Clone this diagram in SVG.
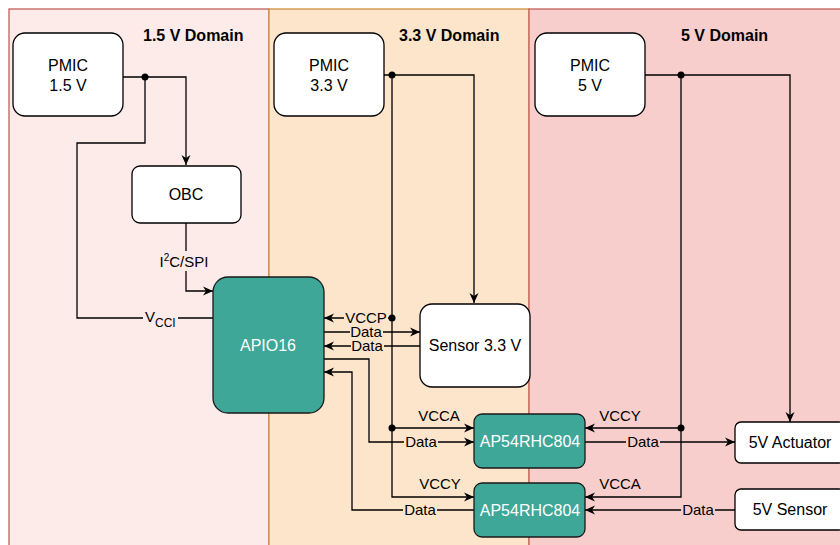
<svg xmlns="http://www.w3.org/2000/svg" width="840" height="545" viewBox="0 0 840 545">
<style>
text{font-family:"Liberation Sans",Arial,sans-serif;fill:#000}
.node{font-size:16px;text-anchor:middle}
.title{font-size:16px;font-weight:bold}
.lbl{font-size:15px;text-anchor:middle}
.wb{fill:#fff;stroke:#000;stroke-width:1.3}
.tb{fill:#3fa797;stroke:#1a1a1a;stroke-width:1.3}
.wt{fill:#fff}
.ln{fill:none;stroke:#000;stroke-width:1.3}
.arr{marker-end:url(#a)}
</style>
<defs>
<marker id="a" viewBox="0 0 10 10" refX="10" refY="5" markerWidth="10" markerHeight="10" markerUnits="userSpaceOnUse" orient="auto">
<path d="M0,0.5 L10,5 L0,9.5 L3,5 Z" fill="#000"/>
</marker>
</defs>
<g id="panels">
<rect x="9" y="9" width="260" height="560" fill="#fdebea" stroke="#c0605c" stroke-width="1.3"/>
<rect x="269" y="9" width="260" height="560" fill="#fce5cb" stroke="#cf8f3f" stroke-width="1.3"/>
<rect x="529" y="9" width="330" height="560" fill="#f8cecc" stroke="#c0605c" stroke-width="1.3"/>
<text class="title" x="143" y="41">1.5 V Domain</text>
<text class="title" x="399" y="41">3.3 V Domain</text>
<text class="title" x="681" y="41">5 V Domain</text>
</g>
<g id="connectors">
<path class="ln arr" d="M123,77 H186 V165"/>
<path class="ln" d="M145,77 V143 H77 V318 H213"/>
<path class="ln arr" d="M186,223 V291 H213"/>
<path class="ln arr" d="M384,75 H474 V303"/>
<path class="ln arr" d="M392,75 V497 H474"/>
<path class="ln arr" d="M392,318 H324"/>
<path class="ln arr" d="M392,428 H474"/>
<path class="ln arr" d="M324,332 H420"/>
<path class="ln arr" d="M420,346 H324"/>
<path class="ln arr" d="M324,359 H369 V442 H474"/>
<path class="ln arr" d="M474,510 H352 V372 H324"/>
<path class="ln arr" d="M645,75 H790 V422"/>
<path class="ln arr" d="M681,75 V497 H585"/>
<path class="ln arr" d="M681,428 H585"/>
<path class="ln arr" d="M585,442 H735"/>
<path class="ln arr" d="M735,510 H585"/>
<circle cx="145" cy="77" r="3.5"/>
<circle cx="392" cy="75" r="3.5"/>
<circle cx="392" cy="318" r="3.5"/>
<circle cx="392" cy="428" r="3.5"/>
<circle cx="681" cy="75" r="3.5"/>
<circle cx="681" cy="428" r="3.5"/>
<rect x="143" y="308" width="35" height="20" fill="#fdebea"/>
<text x="145" y="322" font-size="15">V<tspan font-size="12" dy="5">CCI</tspan></text>
<rect x="157" y="251" width="54" height="20" fill="#fdebea"/>
<text class="lbl" x="184" y="267">I<tspan font-size="10" dy="-6">2</tspan><tspan dy="6">C/SPI</tspan></text>
<rect x="344" y="310" width="44" height="16" fill="#fce5cb"/>
<text class="lbl" x="366" y="323">VCCP</text>
<rect x="350" y="325" width="33" height="15" fill="#fce5cb"/>
<text class="lbl" x="366" y="337">Data</text>
<rect x="351" y="339" width="33" height="15" fill="#fce5cb"/>
<text class="lbl" x="367" y="351">Data</text>
<text class="lbl" x="439" y="421">VCCA</text>
<rect x="404" y="435" width="34" height="15" fill="#fce5cb"/>
<text class="lbl" x="421" y="447">Data</text>
<text class="lbl" x="440" y="489">VCCY</text>
<rect x="403" y="503" width="34" height="15" fill="#fce5cb"/>
<text class="lbl" x="420" y="515">Data</text>
<text class="lbl" x="620" y="421">VCCY</text>
<rect x="626" y="435" width="34" height="15" fill="#f8cecc"/>
<text class="lbl" x="643" y="447">Data</text>
<text class="lbl" x="620" y="489">VCCA</text>
<rect x="681" y="503" width="34" height="15" fill="#f8cecc"/>
<text class="lbl" x="698" y="515">Data</text>
</g>
<g id="pmic15"><rect class="wb" x="13" y="33" width="110" height="83" rx="12"/><text class="node" x="68" y="71">PMIC</text><text class="node" x="68" y="91">1.5 V</text></g>
<g id="pmic33"><rect class="wb" x="274" y="33" width="110" height="83" rx="12"/><text class="node" x="329" y="71">PMIC</text><text class="node" x="329" y="91">3.3 V</text></g>
<g id="pmic5"><rect class="wb" x="535" y="33" width="110" height="83" rx="12"/><text class="node" x="590" y="71">PMIC</text><text class="node" x="590" y="91">5 V</text></g>
<g id="obc"><rect class="wb" x="132" y="166" width="109" height="57" rx="8"/><text class="node" x="186" y="200">OBC</text></g>
<g id="apio16"><rect class="tb" x="213" y="277" width="111" height="136" rx="15"/><text class="node wt" x="268" y="351">APIO16</text></g>
<g id="sensor33"><rect class="wb" x="420" y="304" width="110" height="83" rx="12"/><text class="node" x="475" y="351">Sensor 3.3 V</text></g>
<g id="ap54a"><rect class="tb" x="474" y="414" width="111" height="54" rx="8"/><text class="node wt" x="530" y="447">AP54RHC804</text></g>
<g id="ap54b"><rect class="tb" x="474" y="483" width="111" height="54" rx="8"/><text class="node wt" x="530" y="516">AP54RHC804</text></g>
<g id="actuator5"><rect class="wb" x="735" y="422" width="110" height="41" rx="6"/><text class="node" x="790" y="448">5V Actuator</text></g>
<g id="sensor5"><rect class="wb" x="735" y="489" width="110" height="41" rx="6"/><text class="node" x="790" y="515">5V Sensor</text></g>
</svg>
